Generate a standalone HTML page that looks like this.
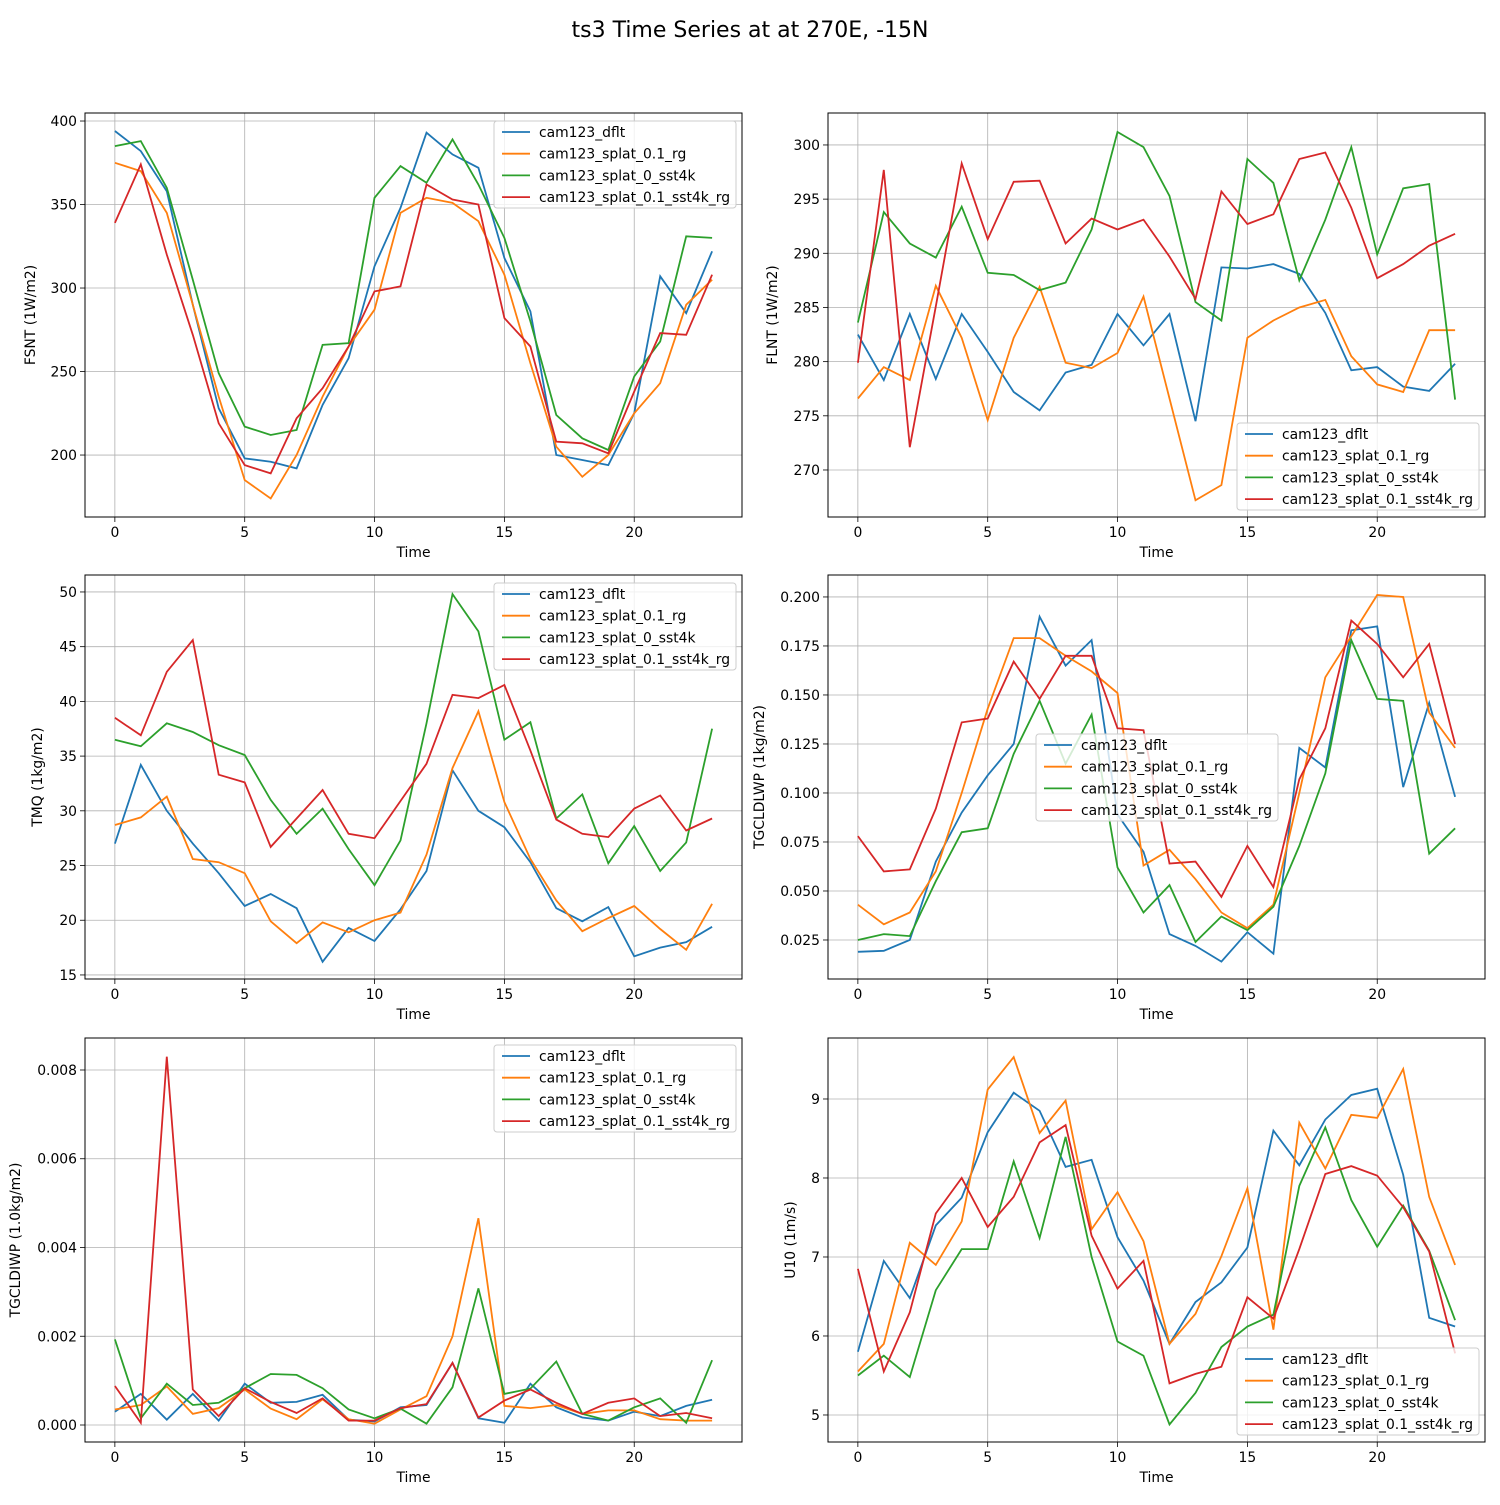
<!DOCTYPE html>
<html><head><meta charset="utf-8"><style>
body{margin:0;background:#fff;}
svg text{font-family:"DejaVu Sans","Liberation Sans",sans-serif;fill:#000;}
</style></head><body>
<svg id="fig" width="1500" height="1500" xmlns="http://www.w3.org/2000/svg">
<rect width="1500" height="1500" fill="#fff"/>
<text x="750" y="37" font-size="22" text-anchor="middle">ts3 Time Series at at 270E, -15N</text>
</svg>
<script>
const seriesNames = ["cam123_dflt","cam123_splat_0.1_rg","cam123_splat_0_sst4k","cam123_splat_0.1_sst4k_rg"];
const xTicks = [0,5,10,15,20];

const fsntBlue=[394,382,358,290,228,198,196,192,230,258,313,348,393,380,372,318,286,200,197,194,225,307,285,322];
const fsntOrange=[375,370,345,290,235,185,174,200,235,265,287,345,354,351,340,308,255,205,187,200,225,243,290,305];
const fsntGreen=[385,388,360,305,249,217,212,215,266,267,354,373,363,389,362,330,280,224,210,203,247,268,331,330];
const fsntRed=[339,374,320,272,219,194,189,222,240,265,298,301,362,353,350,282,265,208,207,201,238,273,272,308];
const fsntTicks=[200,250,300,350,400];

const flntBlue=[282.5,278.3,284.4,278.4,284.4,280.9,277.2,275.5,279.0,279.7,284.4,281.5,284.4,274.5,288.7,288.6,289.0,288.1,284.5,279.2,279.5,277.7,277.3,279.8];
const flntOrange=[276.6,279.5,278.3,287.0,282.2,274.6,282.2,286.9,279.9,279.4,280.8,286.0,276.6,267.2,268.6,282.2,283.8,285.0,285.7,280.5,277.9,277.2,282.9,282.9];
const flntGreen=[283.6,293.8,290.9,289.6,294.3,288.2,288.0,286.6,287.3,292.2,301.2,299.8,295.3,285.5,283.8,298.7,296.5,287.5,293.1,299.8,289.9,296.0,296.4,276.5];
const flntRed=[279.9,297.7,272.1,285.1,298.3,291.3,296.6,296.7,290.9,293.2,292.2,293.1,289.7,285.8,295.7,292.7,293.6,298.7,299.3,294.2,287.7,289.0,290.7,291.8];
const flntTicks=[270,275,280,285,290,295,300];

const tmqBlue=[27.0,34.2,30.0,27.0,24.3,21.3,22.4,21.1,16.2,19.3,18.1,21.0,24.5,33.7,30.0,28.5,25.3,21.1,19.9,21.2,16.7,17.5,18.0,19.4];
const tmqOrange=[28.7,29.4,31.3,25.6,25.3,24.3,19.9,17.9,19.8,18.9,20.0,20.7,26.0,33.9,39.1,30.8,25.6,21.8,19.0,20.2,21.3,19.2,17.3,21.5];
const tmqGreen=[36.5,35.9,38.0,37.2,36.0,35.1,31.0,27.9,30.2,26.5,23.2,27.3,38.0,49.8,46.4,36.5,38.1,29.3,31.5,25.2,28.6,24.5,27.1,37.5];
const tmqRed=[38.5,36.9,42.7,45.6,33.3,32.6,26.7,29.3,31.9,27.9,27.5,30.9,34.3,40.6,40.3,41.5,35.5,29.2,27.9,27.6,30.2,31.4,28.2,29.3];
const tmqTicks=[15,20,25,30,35,40,45,50];

const lwpBlue=[.019,.0195,.025,.065,.090,.109,.125,.190,.165,.178,.089,.070,.028,.022,.014,.029,.018,.123,.113,.183,.185,.103,.146,.098];
const lwpOrange=[.043,.033,.039,.060,.100,.143,.179,.179,.170,.162,.151,.063,.071,.056,.039,.031,.043,.100,.159,.180,.201,.200,.141,.123];
const lwpGreen=[.025,.028,.027,.055,.080,.082,.120,.147,.115,.140,.062,.039,.053,.024,.037,.030,.042,.073,.110,.178,.148,.147,.069,.082];
const lwpRed=[.078,.060,.061,.092,.136,.138,.167,.148,.170,.170,.133,.132,.064,.065,.047,.073,.052,.107,.133,.188,.176,.159,.176,.125];
const lwpTicks=[0.025,0.05,0.075,0.1,0.125,0.15,0.175,0.2];

const iwpBlue=[.0003,.0007,.00012,.0007,.0001,.00093,.0005,.00052,.00068,.00012,.00008,.0004,.00045,.0014,.00015,.00005,.00093,.0004,.00017,.0001,.0003,.0002,.00043,.00057];
const iwpOrange=[.00035,.00045,.00087,.00025,.00038,.0008,.00037,.00013,.00058,.00013,.00003,.00035,.00065,.0020,.00466,.00043,.00038,.00045,.00025,.00033,.00033,.00013,.0001,.0001];
const iwpGreen=[.00193,.00015,.00093,.00045,.0005,.00083,.00115,.00113,.00083,.00035,.00015,.00037,.00003,.00085,.00308,.0007,.00082,.00143,.00025,.0001,.0004,.0006,.00005,.00146];
const iwpRed=[.00088,.00005,.0083,.0008,.0002,.00083,.00052,.00027,.0006,.0001,.0001,.00038,.00047,.0014,.00017,.00055,.0008,.0005,.00025,.0005,.0006,.0002,.00027,.00015];
const iwpTicks=[0,0.002,0.004,0.006,0.008];

const u10Blue=[5.8,6.95,6.48,7.4,7.75,8.58,9.08,8.85,8.14,8.23,7.25,6.7,5.9,6.43,6.68,7.12,8.6,8.16,8.74,9.05,9.13,8.04,6.23,6.12];
const u10Orange=[5.55,5.9,7.18,6.9,7.45,9.12,9.53,8.57,8.98,7.35,7.82,7.2,5.9,6.28,7.01,7.87,6.08,8.7,8.12,8.8,8.76,9.38,7.76,6.9];
const u10Green=[5.5,5.75,5.48,6.58,7.1,7.1,8.21,7.24,8.52,7.0,5.93,5.75,4.88,5.28,5.86,6.12,6.27,7.9,8.64,7.72,7.13,7.65,7.08,6.2];
const u10Red=[6.85,5.55,6.3,7.55,8.0,7.38,7.76,8.45,8.67,7.27,6.6,6.95,5.4,5.52,5.61,6.49,6.22,7.1,8.05,8.15,8.03,7.63,7.07,5.78];
const u10Ticks=[5,6,7,8,9];

const colors=["#1f77b4","#ff7f0e","#2ca02c","#d62728"];
const NS="http://www.w3.org/2000/svg";
const fig=document.getElementById("fig");
function mk(tag,attrs,parent){const e=document.createElementNS(NS,tag);for(const k in attrs)e.setAttribute(k,attrs[k]);(parent||fig).appendChild(e);return e;}
const FS=13.9;

const panels=[
 {id:"fsnt",x0:85,x1:742,y0:113,y1:517,ymin:162.9,ymax:404.8,ticks:fsntTicks,dec:0,data:[fsntBlue,fsntOrange,fsntGreen,fsntRed],ylab:"FSNT (1W/m2)",yoff:50,leg:[494,121]},
 {id:"flnt",x0:828,x1:1485,y0:113,y1:517,ymin:265.66,ymax:302.95,ticks:flntTicks,dec:0,data:[flntBlue,flntOrange,flntGreen,flntRed],ylab:"FLNT (1W/m2)",yoff:51,leg:[1237,423]},
 {id:"tmq",x0:85,x1:742,y0:575,y1:979,ymin:14.63,ymax:51.55,ticks:tmqTicks,dec:0,data:[tmqBlue,tmqOrange,tmqGreen,tmqRed],ylab:"TMQ (1kg/m2)",yoff:43,leg:[494,583]},
 {id:"tgcldlwp",x0:828,x1:1485,y0:575,y1:979,ymin:0.0051,ymax:0.2112,ticks:lwpTicks,dec:3,data:[lwpBlue,lwpOrange,lwpGreen,lwpRed],ylab:"TGCLDLWP (1kg/m2)",yoff:64,leg:[1036,734]},
 {id:"tgcldiwp",x0:85,x1:742,y0:1038,y1:1442,ymin:-0.000383,ymax:0.008721,ticks:iwpTicks,dec:3,data:[iwpBlue,iwpOrange,iwpGreen,iwpRed],ylab:"TGCLDIWP (1.0kg/m2)",yoff:65,leg:[494,1045]},
 {id:"u10",x0:828,x1:1485,y0:1038,y1:1442,ymin:4.658,ymax:9.772,ticks:u10Ticks,dec:0,data:[u10Blue,u10Orange,u10Green,u10Red],ylab:"U10 (1m/s)",yoff:33,leg:[1237,1348]}
];

panels.forEach(p=>{
 const g=mk("g",{});
 
 
 const xmin=-1.15,xmax=24.15;
 const sx=v=>p.x0+(v-xmin)/(xmax-xmin)*(p.x1-p.x0);
 const sy=v=>p.y1-(v-p.ymin)/(p.ymax-p.ymin)*(p.y1-p.y0);
 xTicks.forEach(t=>{
  const X=sx(t);
  mk("line",{x1:X,x2:X,y1:p.y0,y2:p.y1,stroke:"#b0b0b0","stroke-width":0.8},g);
  mk("line",{x1:X,x2:X,y1:p.y1,y2:p.y1+5,stroke:"#000","stroke-width":0.8},g);
  const t1=mk("text",{x:X,y:p.y1+20,"font-size":FS,"text-anchor":"middle"},g);t1.textContent=t;
  
  
 });
 p.ticks.forEach(t=>{
  const Y=sy(t);
  mk("line",{x1:p.x0,x2:p.x1,y1:Y,y2:Y,stroke:"#b0b0b0","stroke-width":0.8},g);
  mk("line",{x1:p.x0-5,x2:p.x0,y1:Y,y2:Y,stroke:"#000","stroke-width":0.8},g);
  const t1=mk("text",{x:p.x0-8,y:Y+5,"font-size":FS,"text-anchor":"end"},g);t1.textContent=t.toFixed(p.dec);
  
  
 });
 p.data.forEach((arr,si)=>{
  const pts=arr.map((v,i)=>sx(i).toFixed(1)+","+sy(v).toFixed(1)).join(" ");
  const l=mk("polyline",{points:pts,fill:"none",stroke:colors[si],"stroke-width":1.8},g);
  
  
 });
 const fr=mk("rect",{x:p.x0,y:p.y0,width:p.x1-p.x0,height:p.y1-p.y0,fill:"none",stroke:"#000","stroke-width":1},g);
 
 
 const xl=mk("text",{x:(p.x0+p.x1)/2,y:p.y1+40,"font-size":FS,"text-anchor":"middle"},g);xl.textContent="Time";
 
 
 const yx=p.x0-p.yoff,yy=(p.y0+p.y1)/2;
 const yl=mk("text",{x:yx,y:yy,"font-size":FS,"text-anchor":"middle",transform:"rotate(-90 "+yx+" "+yy+")"},g);yl.textContent=p.ylab;
 
 
 const lg=mk("g",{},g);
 
 
 const [lx,ly]=p.leg;
 mk("rect",{x:lx,y:ly,width:242,height:87,rx:3,fill:"#fff","fill-opacity":0.8,stroke:"#ccc"},lg);
 seriesNames.forEach((n,si)=>{
  const yy2=ly+11+si*21.7;
  mk("line",{x1:lx+8,x2:lx+36,y1:yy2,y2:yy2,stroke:colors[si],"stroke-width":1.8},lg);
  const tt=mk("text",{x:lx+45,y:yy2+5,"font-size":FS},lg);tt.textContent=n;
  
  
 });
});
</script>
</body></html>
